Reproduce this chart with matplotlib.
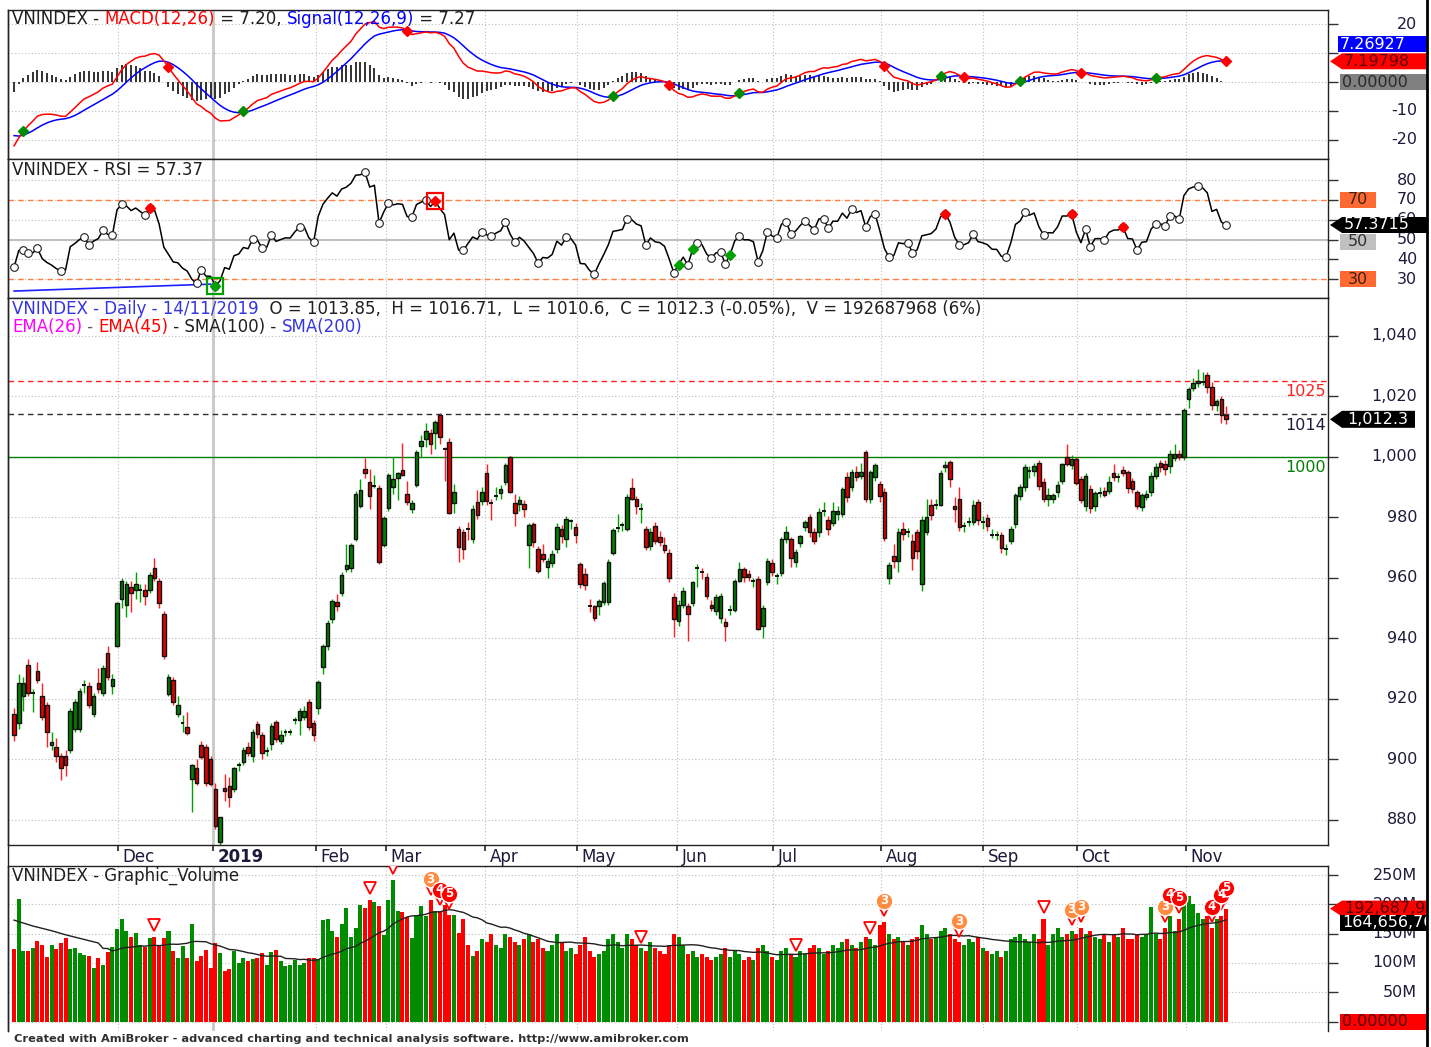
import numpy as np
import matplotlib
matplotlib.use("Agg")
import matplotlib.pyplot as plt
from matplotlib.patches import Rectangle, Polygon

# ---------------- DATA ----------------
opens = [915, 912, 921, 931, 922, 929, 921, 918, 904.5, 904,
         901, 901, 903, 910, 910, 924.5, 924, 915, 925, 922,
         935, 924, 937.5, 953, 951, 957, 956, 955.6, 956, 956,
         963, 959, 948, 921.5, 926, 915, 912, 910.5, 893.5, 897,
         904.5, 904, 900, 890, 872.5, 890.6, 891, 890, 898, 899,
         904, 901, 911.6, 908, 902.6, 905, 912.4, 906, 909, 909,
         912.6, 913, 914, 919, 912, 917, 930.4, 937.5, 946.3, 951.8,
         955, 962.8, 963, 972.8, 983.8, 996, 991.5, 990, 989.5, 970.8,
         983, 990, 993, 995.7, 987.7, 982.7, 990.7, 1003.5, 1005.9, 1007.9,
         1007.9, 1013.6, 1002.6, 1004.8, 984.6, 976.2, 975.1, 976.4, 972.9, 985,
         985.4, 994.7, 984.6, 987, 987.9, 991.6, 999.7, 984.8, 984.3, 984.3,
         970.9, 977.7, 969.4, 967.9, 963.6, 964.8, 969.6, 976.2, 972.7, 978.4,
         976.6, 964.4, 961.2, 950.9, 950.5, 950.5, 952, 952, 968.1, 976.2,
         977.1, 976.2, 989.5, 986.1, 982.3, 976.2, 970.5, 976.9, 973.3, 970.7,
         968.1, 953.5, 945.5, 951, 950.5, 951.5, 963.1, 962.2, 960.3, 951,
         948.8, 946.6, 945.4, 949.1, 949.3, 959, 962.7, 961.2, 958.6, 959.5,
         944.1, 958.6, 964.7, 960.3, 961.5, 972.7, 972.7, 965.2, 971.3, 976.6,
         979.9, 975.1, 974.9, 981.7, 979.1, 978, 981, 981, 993.1, 989.8,
         994.8, 993.7, 1001.4, 986, 993.1, 990.8, 988.4, 960, 967.2, 965.5,
         976.2, 975.1, 972.2, 975.1, 957.8, 974.9, 984.1, 984, 984.1, 996.5,
         998.1, 983.8, 986, 976.8, 978.2, 978.2, 984.9, 978.2, 979.7, 974.1,
         974.1, 974.1, 969.4, 972.2, 977.7, 987.1, 989.8, 995.1, 995.1, 997.9,
         991.7, 986, 986, 988.4, 992, 999.8, 997.2, 999.2, 992.6, 983.8,
         989.3, 983.5, 988, 988.7, 988.7, 994.5, 993.1, 995.7, 994.8, 992,
         988.2, 983.2, 986.7, 988.4, 993.7, 997.9, 997.6, 997, 999.6, 1000.9,
         999.8, 1019.1, 1022.8, 1024.4, 1024.4, 1027.1, 1023, 1016.9, 1019.1, 1013.85]
highs = [917, 928, 927, 933, 923, 932, 925, 919, 909, 907,
         902, 903, 917, 920, 923.5, 926, 925.5, 922, 930, 931,
         937.5, 928, 952, 960, 959, 959, 962, 958, 958, 962,
         966.4, 960, 949, 928, 927, 921, 914.5, 915.5, 898.5, 900,
         906, 905, 901, 892, 881, 895, 894, 897.5, 899, 904,
         905.5, 910, 912.5, 909, 904, 912, 913, 909.5, 910, 910,
         914, 917, 917.5, 920, 913, 926, 938, 946, 953, 954.5,
         962, 971, 971.5, 988.5, 992.5, 999.5, 996, 994, 990.5, 980.5,
         994.5, 1000, 995, 1004.5, 992, 985.5, 1002, 1007, 1011, 1009,
         1012, 1014.5, 1003, 1006, 991, 977, 976, 978.5, 984, 989,
         990, 997.5, 986, 990, 990.5, 998, 1000.3, 987.5, 987, 985.5,
         978, 978.5, 970.5, 971, 966.5, 969, 978, 977.5, 980.5, 979.5,
         978, 965, 963, 953, 951, 953, 959, 966, 976.5, 981,
         978.5, 987.5, 993, 987, 984.5, 977, 976.5, 978.5, 975.5, 973.5,
         969.5, 955, 952.5, 957, 951.5, 959, 964.5, 963, 961.5, 952.5,
         954.5, 955, 946.5, 951, 959.5, 965, 963.5, 962.5, 960, 960.5,
         951, 966.5, 966, 961.5, 973.5, 977, 973.5, 969.5, 974, 979,
         981, 976.5, 983, 985, 980.5, 985, 983.5, 990, 995, 996,
         997, 998, 1002.3, 995.5, 998, 992, 989.5, 965, 971, 976.5,
         978.5, 976.5, 974.5, 976, 980.5, 986, 986, 986, 995.5, 998.5,
         998.8, 986.5, 990, 978.5, 980, 985.5, 986, 980.5, 981, 976,
         975.5, 975, 971, 977, 988, 991, 997.5, 997, 998, 999,
         993, 989.5, 988, 992, 998, 1004, 1000.5, 1000, 993.5, 994.5,
         990.5, 988.5, 990, 990, 993.5, 997.5, 994.5, 997, 995.5, 993,
         989, 988, 989, 995, 998, 999, 999, 1002, 1004, 1002,
         1016, 1023, 1026, 1029, 1028, 1028, 1024.5, 1019, 1020, 1016.71]
lows = [906, 910, 916, 921, 915.5, 925, 913, 904, 903, 899,
        893, 894.5, 902, 909, 909, 922, 917, 914, 922, 921,
        926, 921.5, 937, 950, 947, 948.6, 953, 952, 951, 955,
        959, 950, 933, 921, 918, 914, 909, 908, 882.4, 891.5,
        900, 891, 891, 877, 871.5, 886, 884, 889, 896, 898,
        901, 899, 907, 900, 901, 903, 905.5, 905, 907.5, 908,
        911.5, 908, 913, 909.5, 906, 915, 928, 936, 945, 949,
        954, 962, 962, 972, 983, 993, 982.5, 989.5, 964.5, 970,
        982, 987.5, 985.5, 993.5, 984, 981.5, 990, 1000, 1003, 1001,
        1002.5, 1004, 992, 981, 981.5, 965, 966, 972.5, 971.5, 979.5,
        984, 984, 979, 985.5, 986, 990.5, 988, 977, 982, 980,
        963, 970, 961.5, 965, 960, 963.5, 968, 971.5, 970, 976,
        971.5, 956.5, 956, 948.5, 945.5, 947.5, 951, 951, 967.5, 975,
        975.5, 975.5, 985.5, 981, 978, 969, 969, 971, 970.5, 968,
        958.5, 940.5, 944, 950, 939, 950.5, 957, 959.5, 953, 949,
        947.5, 945, 939, 947.5, 948.5, 958.5, 958.5, 959, 957, 942.5,
        940, 957.5, 960.5, 958, 960.5, 971.5, 963.5, 963.5, 970, 975.5,
        973.5, 971, 973.5, 980.5, 974, 977, 979, 980, 985, 988.5,
        992, 992.5, 985, 984.5, 992, 985, 972, 957.8, 963, 962,
        972.5, 973.5, 962.5, 966, 955.5, 974, 979, 982.5, 983.5, 995,
        990, 978.5, 975.5, 975, 977, 977.5, 977.5, 976, 975.5, 973,
        972.5, 968, 967.5, 971, 976.5, 985.5, 988.5, 993, 993.5, 989,
        985, 983.5, 984.5, 986.5, 991, 997, 996, 990.5, 984.5, 982,
        981.5, 982, 986.5, 986.5, 987.5, 992, 991.5, 993.5, 988, 988,
        982.5, 982, 985.5, 987, 992.5, 995, 994, 994.5, 998.5, 999,
        999, 1016, 1021.5, 1023, 1023.5, 1021, 1015.5, 1015, 1011, 1010.6]
closes = [908, 925, 925, 922, 922, 926, 914, 909, 905.5, 901,
          897, 898, 916, 919, 922.6, 924.5, 918, 921, 923, 930,
          927, 926.5, 951.6, 959, 958, 955, 958, 955.8, 954, 961,
          960, 951.6, 934, 927, 919, 918, 912, 908.6, 898, 892,
          900.6, 892, 891.8, 878, 880.8, 889.5, 887.6, 897, 898.2, 903,
          902, 909, 908.3, 902, 902.7, 911, 906.7, 908, 909.1, 909,
          912.8, 916, 916, 910.5, 908, 925.6, 937.5, 945, 952.4, 950.7,
          961, 964, 970.6, 987.7, 988.8, 994.6, 987, 990.2, 965, 979.7,
          994, 992.6, 994.4, 994, 985, 984.6, 1001.4, 1005.2, 1008.3, 1004,
          1011.4, 1006.6, 1002.4, 981.5, 988.3, 970, 969.6, 976.2, 982.8, 980.7,
          988.3, 985.4, 984.5, 987.1, 989.2, 997.1, 988.3, 981.5, 985.6, 982.6,
          977.3, 971.9, 962.3, 966.1, 965.5, 967.8, 976.8, 973.8, 979.5, 978.6,
          974, 957.9, 957.5, 950.7, 946.6, 952.4, 958.2, 965, 975.7, 976.4,
          977.3, 986.7, 986.1, 983.5, 982.5, 970, 974.9, 972.2, 971.6, 969.2,
          959.8, 946.3, 951, 955.6, 948, 958.4, 963.3, 962, 954, 950,
          953.5, 953.8, 943.9, 949.3, 959, 962.7, 960.1, 960.1, 958.8, 943,
          950, 965.4, 961.9, 960.5, 972.7, 975.1, 966.3, 968.6, 973.6, 978.2,
          975.1, 972.2, 981.8, 981.9, 976, 982.1, 982.1, 989.3, 986.5, 994.8,
          993.1, 994.8, 986, 994.8, 997.2, 987.1, 973, 964.2, 965.5, 975.1,
          974.4, 975.2, 966.6, 968.8, 979.1, 979.9, 980.8, 984.1, 994.6, 997.2,
          992.6, 982.7, 976.8, 976.9, 978.3, 984.1, 979.1, 978.3, 977.1, 974.2,
          974.1, 969.7, 969.5, 976, 987.3, 989.8, 996.5, 995.2, 996.8, 990.4,
          986, 987.3, 987.2, 990.6, 997.6, 997.6, 999.2, 991.3, 985.7, 993.5,
          983, 988, 988.1, 987.3, 991.7, 993.1, 993.2, 994.6, 989.5, 989.3,
          983.8, 987.3, 987.6, 993.7, 996.5, 996.5, 995.9, 1000.9, 1000.9, 999.8,
          1015.5, 1022.2, 1024.4, 1024.9, 1024.5, 1023, 1016.9, 1018.2, 1013.6, 1012.3]
volumes = [123, 209, 120, 120, 126, 137, 131, 110, 131, 124,
           134, 143, 124, 126, 117, 113, 111, 91, 109, 97,
           118, 127, 158, 175, 154, 144, 151, 130, 127, 143,
           144, 130, 143, 154, 120, 108, 129, 109, 167, 103,
           111, 122, 91, 134, 117, 86, 90, 121, 100, 108,
           104, 106, 108, 117, 97, 118, 122, 104, 94, 96,
           105, 96, 100, 109, 108, 106, 173, 175, 155, 144,
           167, 193, 144, 160, 198, 193, 208, 204, 197, 147,
           208, 242, 189, 187, 178, 143, 180, 197, 180, 207,
           189, 189, 198, 182, 182, 151, 175, 131, 111, 121,
           140, 135, 150, 130, 125, 150, 145, 135, 130, 140,
           150, 135, 140, 125, 120, 130, 150, 135, 120, 125, 115,
           130, 145, 120, 110, 115, 120, 140, 150, 135, 125,
           150, 140, 130, 125, 120, 135, 125, 120, 115, 130, 150,
           145, 130, 115, 120, 110, 115, 110, 105, 110, 115,
           125, 110, 120, 115, 105, 110, 105, 125, 130, 120,
           110, 105, 120, 125, 115, 110, 120, 115, 125, 130,
           125, 115, 120, 130, 125, 135, 140, 130, 125, 135, 145, 140, 130,
           165, 170, 150, 140, 145, 135, 130, 140, 145, 165,
           150, 140, 145, 155, 160, 150, 140, 135, 130, 140, 135, 145,
           125, 120, 115, 120, 110, 120, 140, 145, 150, 140,
           135, 150, 140, 175, 130, 150, 160, 145, 150, 155,
           150, 160, 150, 155, 145, 140, 150, 135, 150, 145,
           160, 140, 140, 150, 145, 150, 195, 150, 140, 160, 180, 155, 175,
           205, 215, 200, 185, 175, 180, 160, 175, 180, 192.7]   # millions

month_labels = ["Dec", "2019", "Feb", "Mar", "Apr", "May", "Jun", "Jul", "Aug", "Sep", "Oct", "Nov"]
month_pos = [22.2, 42.5, 64.5, 79.5, 100.6, 120.3, 141.7, 162.2, 185.3, 207.1, 227.1, 250.4]

# last values printed by the chart
macd_last, signal_last, rsi_last = 7.19798, 7.26927, 57.3715
vol_last_txt, vol_ma_last_txt = "192,687,968", "164,656,768"

macd_seed = (911.4, 935.0, -17.7)          # EMA12, EMA26, signal before first bar
rsi_seed = (913.0, 3.31, 5.5)              # prior close, avg gain, avg loss
vol_ma_head_idx = [0, 4, 8, 11, 15, 18]
vol_ma_head_val = [173, 163, 155, 148, 140, 134]

rsi_sell_idx = [29, 90, 199, 226, 237]
rsi_buy_idx = [43, 142, 145, 153]
rsi_trend_idx = [0, 42]
rsi_trend_val = [24.0, 27.5]

tri_idx = [30, 76, 81, 89, 91, 93, 134, 167, 183, 186, 202, 220, 226, 228, 246, 249, 256, 258, 259]
circ_idx = [89, 91, 93, 186, 202, 226, 228, 246, 247, 249, 256, 258, 259]
circ_lab = ['3', '4', '5', '3', '3', '3', '3', '3', '4', '5', '4', '4', '5']

levels = {"1025": (1025, '#ff2020', (0, (4, 3))),
          "1014": (1014, '#303030', (0, (4, 3))),
          "1000": (1000, '#008000', '-')}

# ---------------- INDICATORS ----------------
n = len(closes)
idx = np.arange(n)
O = np.array(opens); Hh = np.array(highs); L = np.array(lows); C = np.array(closes)
V = np.array(volumes)

e12, e26, sig = macd_seed
macd, signal = [], []
for c in closes:
    e12 += (c - e12) * 2 / 13
    e26 += (c - e26) * 2 / 27
    m = e12 - e26
    sig += (m - sig) * 2 / 10
    macd.append(m)
    signal.append(sig)
macd = np.array(macd); signal = np.array(signal); hist = macd - signal
cross_up = [i for i in range(1, n) if hist[i - 1] < 0 <= hist[i]]
cross_dn = [i for i in range(1, n) if hist[i - 1] >= 0 > hist[i]]

prev, ag, al = rsi_seed
rsi = []
for c in closes:
    d = c - prev
    ag = (ag * 13 + max(d, 0)) / 14
    al = (al * 13 + max(-d, 0)) / 14
    rsi.append(100 - 100 / (1 + ag / al))
    prev = c
rsi = np.array(rsi)
piv = [i for i in range(n) if (rsi[i] == rsi[max(0, i - 2):i + 3].max() or rsi[i] == rsi[max(0, i - 2):i + 3].min())]

vol_ma = np.full(n, np.nan)
for i in range(19, n):
    vol_ma[i] = V[i - 19:i + 1].mean()

# ---------------- FIGURE ----------------
W, Hpx = 1431, 1047
plt.rcParams['font.family'] = ['DejaVu Sans']
fig = plt.figure(figsize=(W / 100, Hpx / 100), dpi=100)
fig.patch.set_facecolor('white')

def add_px(x0, y0, x1, y1):
    return fig.add_axes([x0 / W, 1 - y1 / Hpx, (x1 - x0) / W, (y1 - y0) / Hpx])

XL = (-1.3, 280.8)
GRID = '#bdbdbd'
TXT = '#1c1c3a'
LBL_FS = 11.5

def make_panel(y0, y1, ylim, yt):
    ax = add_px(8, y0, 1328, y1)
    ax.set_xlim(*XL); ax.set_ylim(*ylim)
    ax.set_xticks([]); ax.set_yticks(yt)
    ax.yaxis.tick_right()
    ax.tick_params(axis='y', direction='out', length=7, width=1, colors='#333333', labelright=False, labelleft=False)
    for s in ax.spines.values():
        s.set_color('#222222'); s.set_linewidth(1)
    for v in yt:
        ax.axhline(v, color=GRID, lw=0.8, ls=(0, (1, 2)), zorder=0)
    for k, p in enumerate(month_pos):
        if month_labels[k] == '2019':
            ax.axvline(p, color='#c8c8c8', lw=2, zorder=0)
        else:
            ax.axvline(p, color=GRID, lw=0.8, ls=(0, (1, 2)), zorder=0)
    st = add_px(1328, y0, 1427, y1)
    st.set_xlim(0, 99); st.set_ylim(*ylim); st.axis('off')
    return ax, st, (y1 - y0)

def tick_labels(st, vals, texts):
    for v, t in zip(vals, texts):
        if t:
            st.text(89, v, t, ha='right', va='center', fontsize=LBL_FS, color=TXT, clip_on=True)

def box(st, ph, y, x0, x1, hpx, fc, text, tc, arrow=False, ha='left'):
    lo, hi = st.get_ylim()
    hu = hpx * (hi - lo) / ph
    if arrow:
        pts = [(2, y), (14, y + hu / 2), (x1, y + hu / 2), (x1, y - hu / 2), (14, y - hu / 2)]
    else:
        pts = [(x0, y - hu / 2), (x0, y + hu / 2), (x1, y + hu / 2), (x1, y - hu / 2)]
    st.add_patch(Polygon(pts, closed=True, fc=fc, ec='none', zorder=5, clip_on=True))
    if ha == 'center':
        st.text((x0 + x1) / 2, y, text, ha='center', va='center', fontsize=LBL_FS, color=tc, zorder=6, clip_on=True)
    else:
        st.text(x0 + 2, y, text, ha='left', va='center', fontsize=LBL_FS, color=tc, zorder=6, clip_on=True)

renderer = fig.canvas.get_renderer()

def multi_text(x_px, y_px, pieces, fs=12):
    x = x_px
    for s, c in pieces:
        t = fig.text(x / W, 1 - y_px / Hpx, s, color=c, fontsize=fs, va='center', ha='left')
        x += t.get_window_extent(renderer).width

# ---- MACD panel ----
axM, stM, phM = make_panel(10, 159, (-26.7, 25.0), [20, 10, 0, -10, -20])
axM.vlines(idx, 0, hist, color='#222222', lw=1.3, zorder=2)
axM.plot(idx, signal, color='#0000ff', lw=1.1, zorder=3)
axM.plot(idx, macd, color='#ff0000', lw=1.1, zorder=4)
axM.plot(cross_up, macd[cross_up], 'D', ms=5, color='#008c00', zorder=5)
axM.plot(cross_dn, macd[cross_dn], 'D', ms=5, color='#ff0000', zorder=5)
# "10" and "0" are fully covered by the value boxes in the reference
tick_labels(stM, [20, 10, 0, -10, -20], ['20', '', '', '-10', '-20'])
unitM = (25.0 + 26.7) / phM
box(stM, phM, signal_last + 17 * unitM, 10, 99, 16, '#0000ff', '%.5f' % signal_last, 'white')
box(stM, phM, macd_last, 14, 99, 16, '#ff0000', '%.5f' % macd_last, '#600000', arrow=True)
box(stM, phM, 0, 12, 99, 16, '#808080', '0.00000', '#2a2a2a')
multi_text(12, 19, [("VNINDEX - ", '#202020'), ("MACD(12,26)", '#ff0000'), (" = %.2f, " % macd_last, '#202020'),
                    ("Signal(12,26,9)", '#0000ff'), (" = %.2f" % signal_last, '#202020')])

# ---- RSI panel ----
axR, stR, phR = make_panel(159, 298, (20.5, 90.7), [80, 70, 60, 50, 40, 30])
axR.axhline(50, color='#c0c0c0', lw=1.5, zorder=1)
for lv in (70, 30):
    axR.axhline(lv, color='#ff8040', lw=1, ls=(0, (4, 3)), zorder=1)
axR.plot(rsi_trend_idx, rsi_trend_val, color='#2020ff', lw=1.2, zorder=2)
axR.plot(idx, rsi, color='#000000', lw=1.1, zorder=3)
axR.plot(piv, rsi[piv], 'o', ms=5.5, mfc='white', mec='#202020', mew=0.8, zorder=4)
axR.plot(rsi_sell_idx, rsi[rsi_sell_idx], 'D', ms=5.5, color='#ff0000', zorder=5)
axR.plot(rsi_buy_idx, rsi[rsi_buy_idx], 'D', ms=5.5, color='#00a000', zorder=5)
axR.plot([90], rsi[[90]], 's', ms=12, mfc='none', mec='#ff0000', mew=1.6, zorder=6)
axR.plot([43], rsi[[43]], 's', ms=12, mfc='none', mec='#00a000', mew=1.6, zorder=6)
tick_labels(stR, [80, 70, 60, 50, 40, 30], ['80', '70', '60', '50', '40', '30'])
unitR = (90.7 - 20.5) / phR
box(stR, phR, 70, 12, 48, 16, '#ff6a33', '70', '#402010', ha='center')
box(stR, phR, 50 - 2 * unitR, 12, 48, 16, '#c0c0c0', '50', '#303030', ha='center')
box(stR, phR, 30, 12, 48, 16, '#ff6a33', '30', '#402010', ha='center')
box(stR, phR, rsi_last, 14, 99, 16, '#000000', '%.4f' % rsi_last, 'white', arrow=True)
multi_text(12, 170, [("VNINDEX - RSI = %.2f" % rsi_last, '#202020')])

# ---- Price panel ----
ptk = [1040, 1020, 1000, 980, 960, 940, 920, 900, 880]
axP, stP, phP = make_panel(298, 845, (871.6, 1052.4), ptk)
for name, (lv, col, ls) in levels.items():
    axP.axhline(lv, color=col, lw=1, ls=ls, zorder=1)
    axP.text(280.3, lv - 1.1, name, ha='right', va='top', fontsize=LBL_FS, color=col if name != "1014" else TXT, zorder=2)
up = C >= O
axP.vlines(idx[up], L[up], Hh[up], color='#00a000', lw=1, zorder=2)
axP.vlines(idx[~up], L[~up], Hh[~up], color='#ff2020', lw=1, zorder=2)
for i in range(n):
    lo, hi = min(O[i], C[i]), max(O[i], C[i])
    if hi - lo < 0.35:
        axP.hlines(C[i], i - 0.42, i + 0.42, color='#111111', lw=1.4, zorder=3)
    else:
        axP.add_patch(Rectangle((i - 0.38, lo), 0.76, hi - lo, fc='#008000' if up[i] else '#e00000',
                                ec='#111111', lw=1.0, zorder=3))
tick_labels(stP, ptk, ['1,040', '1,020', '1,000', '980', '960', '940', '920', '900', '880'])
box(stP, phP, C[-1], 17, 87, 17, '#000000', '{:,.1f}'.format(C[-1]), 'white', arrow=True)
multi_text(12, 309, [("VNINDEX - Daily - 14/11/2019", '#3535e0'),
                     ("  O = 1013.85,  H = 1016.71,  L = 1010.6,  C = 1012.3 (-0.05%),  V = 192687968 (6%)", '#202020')])
multi_text(12, 327, [("EMA(26)", '#ff00ff'), (" - ", '#606060'), ("EMA(45)", '#ff0000'),
                     (" - SMA(100) - ", '#202020'), ("SMA(200)", '#3535e0')])

# ---- Month strip ----
axL = add_px(8, 845, 1328, 866)
axL.set_xlim(*XL); axL.set_ylim(0, 1); axL.axis('off')
axL.vlines(month_pos, 0.72, 1, color='#222222', lw=1.2)
for p, lab in zip(month_pos, month_labels):
    axL.text(p + 1.0, 0.42, lab, ha='left', va='center', fontsize=12, color=TXT,
             fontweight='bold' if lab == '2019' else 'normal')

# ---- Volume panel ----
vtk = [250, 200, 150, 100, 50, 0]
axV, stV, phV = make_panel(866, 1031, (-16.2, 265.4), vtk)
axV.spines['bottom'].set_visible(False)
axV.bar(idx, V, width=0.86, color=np.where(up, '#008c00', '#ff0000'), lw=0, zorder=2)
axV.plot(vol_ma_head_idx + list(idx[19:]), vol_ma_head_val + list(vol_ma[19:]), color='#202020', lw=1, zorder=3)
axV.plot(tri_idx, V[tri_idx] + 20, 'v', ms=9, mfc='white', mec='#ff0000', mew=1.3, zorder=4)
for i, lab in zip(circ_idx, circ_lab):
    col = '#ff8c40' if lab == '3' else '#ff0000'
    yv = V[i] + 36
    axV.plot([i], [yv], 'o', ms=12, mfc=col, mec='white', mew=1, zorder=5)
    axV.text(i, yv, lab, ha='center', va='center', fontsize=8.5, fontweight='bold', color='white', zorder=6)
tick_labels(stV, vtk, ['250M', '200M', '150M', '100M', '50M', ''])
unitV = (265.4 + 16.2) / phV
box(stV, phV, V[-1], 14, 99, 16, '#ff0000', vol_last_txt, '#500000', arrow=True)
box(stV, phV, vol_ma[-1] - 3 * unitV, 12, 99, 16, '#000000', vol_ma_last_txt, 'white')
box(stV, phV, 0, 12, 99, 16, '#ff0000', '0.00000', '#500000')
multi_text(12, 876, [("VNINDEX - Graphic_Volume", '#202020')])

# ---- frame & caption ----
fig.add_artist(plt.Line2D([1427 / W, 1427 / W], [0, 1], color='black', lw=2))
fig.add_artist(plt.Line2D([8 / W, 8 / W], [1 - 1031 / Hpx, 1 - 10 / Hpx], color='#222222', lw=1))
fig.text(14 / W, 1 - 1039 / Hpx, "Created with AmiBroker - advanced charting and technical analysis software. http://www.amibroker.com",
         fontsize=8.2, fontweight='bold', color='#303030', va='center', ha='left')

fig.savefig("out.png", dpi=100, facecolor='white')
